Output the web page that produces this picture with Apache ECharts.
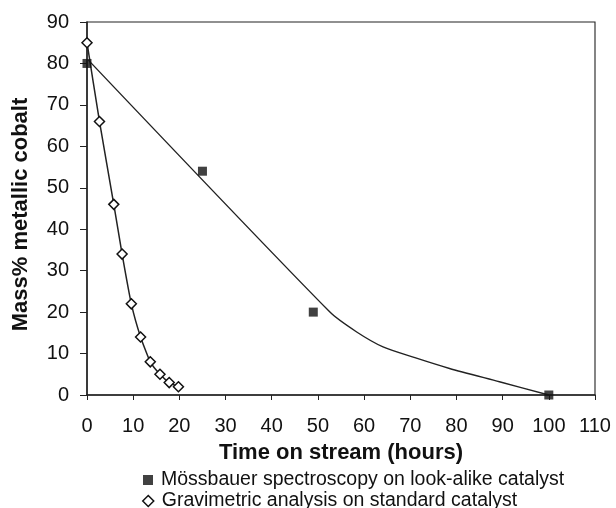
<!DOCTYPE html>
<html>
<head>
<meta charset="utf-8">
<script src="https://cdn.jsdelivr.net/npm/echarts@6/dist/echarts.min.js"></script>
<style>
  html, body { margin: 0; padding: 0; background: #fff; }
  #chart { width: 616px; height: 508px; }
</style>
</head>
<body>
<div id="chart"></div>
<script>
// Mössbauer measurements (look-alike catalyst): [hours, mass% metallic Co]
const mossbauerPoints = [[0, 80], [25, 54], [49, 20], [100, 0]];
// Trend curve drawn through the Mössbauer data
const mossbauerTrend = [[0.3, 80.8], [52.6, 20], [58.4, 15.2], [64.1, 11.6], [71, 9], [78.5, 6.4], [89.3, 3.2], [100, 0]];
// Gravimetric analysis (standard catalyst)
const gravimetricPoints = [[0, 85], [2.7, 66], [5.8, 46], [7.6, 34], [9.6, 22], [11.6, 14], [13.7, 8], [15.8, 5], [17.8, 3], [19.8, 2]];

const xTicks = { min: 0, max: 110, interval: 10 };
const yTicks = { min: 0, max: 90, interval: 10 };

const mossName = 'Mössbauer spectroscopy on look-alike catalyst';
const gravName = 'Gravimetric analysis on standard catalyst';

const font = 'Liberation Sans, Arial, sans-serif';
const ink = '#111';
const chart = echarts.init(document.getElementById('chart'), null, { renderer: 'canvas' });

const legendText = { fontFamily: font, fontSize: 19.5, color: ink, padding: [0, 0, 0, 3] };

chart.setOption({
  animation: false,
  backgroundColor: '#fff',
  textStyle: { fontFamily: font, color: ink },
  grid: {
    left: 87, right: 21, top: 22, bottom: 113,
    show: true, borderColor: '#222', borderWidth: 1.1, backgroundColor: 'transparent'
  },
  // one legend block per row, stacked under the axis title
  legend: [
    {
      left: 143, top: 470, padding: 0,
      itemWidth: 10, itemHeight: 10,
      textStyle: legendText,
      data: [{ name: mossName, icon: 'rect', itemStyle: { color: ink, borderWidth: 0 } }]
    },
    {
      left: 142, top: 491, padding: 0,
      itemWidth: 11, itemHeight: 11,
      textStyle: legendText,
      data: [{ name: gravName, icon: 'diamond', itemStyle: { color: '#fff', borderColor: ink, borderWidth: 1.5 } }]
    }
  ],
  xAxis: {
    type: 'value',
    min: xTicks.min, max: xTicks.max, interval: xTicks.interval,
    name: 'Time on stream (hours)',
    nameLocation: 'middle', nameGap: 47,
    nameTextStyle: { fontFamily: font, fontSize: 22, fontWeight: 'bold', color: ink },
    axisLine: { onZero: false, lineStyle: { color: '#222', width: 1.5 } },
    axisTick: { show: true, inside: false, length: 5, lineStyle: { color: '#222' } },
    axisLabel: { fontFamily: font, fontSize: 20, color: ink, margin: 21 },
    splitLine: { show: false }
  },
  yAxis: {
    type: 'value',
    min: yTicks.min, max: yTicks.max, interval: yTicks.interval,
    name: 'Mass% metallic cobalt',
    nameLocation: 'middle', nameGap: 55, nameRotate: 90,
    nameTextStyle: { fontFamily: font, fontSize: 22, fontWeight: 'bold', color: ink, padding: [0, 12, 0, 0] },
    axisLine: { onZero: false, lineStyle: { color: '#222', width: 1.5 } },
    axisTick: { show: true, inside: false, length: 7, lineStyle: { color: '#222' } },
    axisLabel: { fontFamily: font, fontSize: 20, color: ink, margin: 18 },
    splitLine: { show: false }
  },
  series: [
    {
      name: 'trend',
      type: 'line',
      data: mossbauerTrend,
      smooth: 0.25,
      symbol: 'none',
      lineStyle: { color: '#222', width: 1.4 },
      z: 2
    },
    {
      name: gravName,
      type: 'line',
      data: gravimetricPoints,
      smooth: 0.15,
      symbol: 'diamond',
      symbolSize: [10, 10],
      itemStyle: { color: '#fff', borderColor: ink, borderWidth: 1.5 },
      lineStyle: { color: '#222', width: 1.5 },
      z: 3
    },
    {
      name: mossName,
      type: 'scatter',
      data: mossbauerPoints,
      symbol: 'rect',
      symbolSize: 9,
      itemStyle: { color: ink },
      z: 4
    }
  ]
});
</script>
</body>
</html>
